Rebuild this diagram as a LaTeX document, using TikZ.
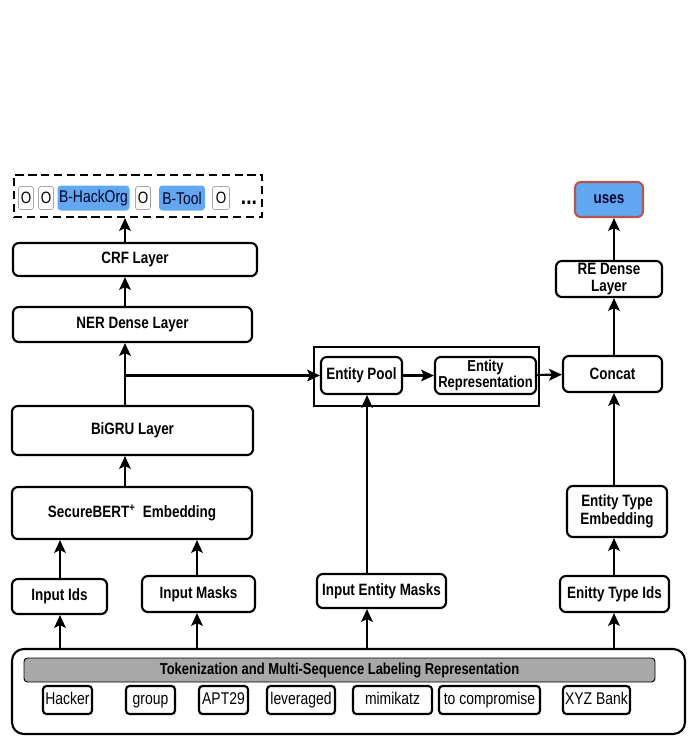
\documentclass[tikz,border=0pt]{standalone}
\usepackage{fontspec}
\setmainfont{Liberation Sans}[FakeStretch=0.82]
\usetikzlibrary{arrows.meta}
\definecolor{tagblue}{HTML}{62A8F0}
\definecolor{usesred}{HTML}{B85450}
\definecolor{bargray}{HTML}{A8A8A8}
\begin{document}
\begin{tikzpicture}
[x=0.03cm,y=-0.03cm,line width=1.8pt,%
  sz/.style 2 args={minimum width=#1*0.03cm,minimum height=#2*0.03cm},
  box/.style={draw,rounded corners=5pt,inner sep=0pt,align=center,
    font=\bfseries\fontsize{14}{15}\selectfont},
  tok/.style={draw,rounded corners=3pt,inner sep=0pt,text height=10pt,text depth=2.5pt,
    font=\fontsize{14.5}{15}\selectfont},
  tagO/.style={draw=black!35,line width=0.6pt,rounded corners=1.5pt,inner sep=0pt,
    sz={15}{23},font=\fontsize{14}{15}\selectfont},
  tagB/.style={fill=tagblue,rounded corners=3pt,inner sep=0pt,
    font=\fontsize{14.5}{15}\selectfont,text=black!85!blue},
  arr/.style={-{Stealth[length=11pt,width=10pt,inset=2.5pt]}}]
\useasboundingbox (0,0) rectangle (692,744);
% output tags
\node[draw,dashed,dash pattern=on 7pt off 4pt,sz={248}{42},inner sep=0pt] (out) at (138,196) {};
\node[tagO] (o1) at (26,198) {O};
\node[tagO] (o2) at (46,198) {O};
\node[tagB,sz={72}{25}] (hack) at (93.5,198) {B-HackOrg};
\node[tagO] (o3) at (143,198) {O};
\node[tagB,sz={46}{25}] (tool) at (182,198) {B-Tool};
\node[tagO,sz={17}{23}] (o4) at (221,198) {O};
\node[font=\bfseries\fontsize{20}{20}\selectfont,inner sep=0pt] (dots) at (249,203) {...};
% left column
\node[box,sz={244}{33}] (crf) at (135,259.5) {CRF Layer};
\node[box,sz={239}{35}] (ner) at (132.5,324.5) {NER Dense Layer};
\node[box,sz={241}{49}] (bigru) at (132.5,430.5) {BiGRU Layer};
\node[box,sz={240}{52}] (sbert) at (132,513) {SecureBERT\textsuperscript{+}\ \ Embedding};
\node[box,sz={95}{35}] (inids) at (59.5,596.5) {Input Ids};
\node[box,sz={113}{36}] (inmasks) at (198.5,594) {Input Masks};
% entity part
\node[draw,sz={225}{59},inner sep=0pt] (entbox) at (426.5,376.5) {};
\node[box,sz={81}{37}] (pool) at (361.5,375.5) {Entity Pool};
\node[box,sz={101}{37},font=\bfseries\fontsize{13.5}{14}\selectfont] (entrep) at (485.5,375.5) {Entity\\Representation};
\node[box,sz={129}{34}] (inentmasks) at (381.5,591) {Input Entity Masks};
% relation part
\node[box,sz={68}{35},draw=usesred,fill=tagblue,text=black!80!blue] (uses) at (609,199.5) {uses};
\node[box,sz={106}{36}] (redense) at (609,279) {RE Dense\\Layer};
\node[box,sz={99}{36}] (concat) at (612.5,374) {Concat};
\node[box,sz={100}{51}] (typeemb) at (617,511.5) {Entity Type\\Embedding};
\node[box,sz={109}{36}] (typeids) at (614.5,594) {Enitty Type Ids};
% tokens
\node[draw,rounded corners=10pt,sz={673}{85},inner sep=0pt] (tokbox) at (348.5,691.5) {};
\node[draw,line width=0.8pt,fill=bargray,rounded corners=3pt,sz={631}{24},inner sep=0pt,
  font=\bfseries\fontsize{13.5}{14}\selectfont] (tokbar) at (339.5,670) {Tokenization and Multi-Sequence Labeling Representation};
\node[tok,sz={49}{28}] (t1) at (67.5,700) {Hacker};
\node[tok,sz={49}{28}] (t2) at (150.5,700) {group};
\node[tok,sz={49}{28}] (t3) at (223.5,700) {APT29};
\node[tok,sz={68}{28}] (t4) at (301,700) {leveraged};
\node[tok,sz={79}{28}] (t5) at (392.5,700) {mimikatz};
\node[tok,sz={101}{28}] (t6) at (489.5,700) {to compromise};
\node[tok,sz={67}{28}] (t7) at (596.5,700) {XYZ Bank};
% columns of the arrows
\coordinate (colL) at (125,0);
\coordinate (colI) at (60,0);
\coordinate (colM) at (197,0);
\coordinate (colE) at (367,0);
\coordinate (colT) at (614,0);
% arrows
\draw[arr] (tokbox.north -| colI) -- (inids.south -| colI);
\draw[arr] (tokbox.north -| colM) -- (inmasks.south -| colM);
\draw[arr] (tokbox.north -| colE) -- (inentmasks.south -| colE);
\draw[arr] (tokbox.north -| colT) -- (typeids.south -| colT);
\draw[arr] (inids.north -| colI) -- (sbert.south -| colI);
\draw[arr] (inmasks.north -| colM) -- (sbert.south -| colM);
\draw[arr] (sbert.north -| colL) -- (bigru.south -| colL);
\draw[arr] (bigru.north -| colL) -- (ner.south -| colL);
\draw[arr] (ner.north -| colL) -- (crf.south -| colL);
\draw[arr] (crf.north -| colL) -- (out.south -| colL);
\draw[arr] (colL |- pool.west) -- (pool.west);
\draw[arr] (inentmasks.north -| colE) -- (pool.south -| colE);
\draw[arr] (pool) -- (entrep);
\draw[arr] (entrep) -- (concat);
\draw[arr] (typeids.north -| colT) -- (typeemb.south -| colT);
\draw[arr] (typeemb.north -| colT) -- (concat.south -| colT);
\draw[arr] (concat.north -| colT) -- (redense.south -| colT);
\draw[arr] (redense.north -| colT) -- (uses.south -| colT);
\end{tikzpicture}
\end{document}
